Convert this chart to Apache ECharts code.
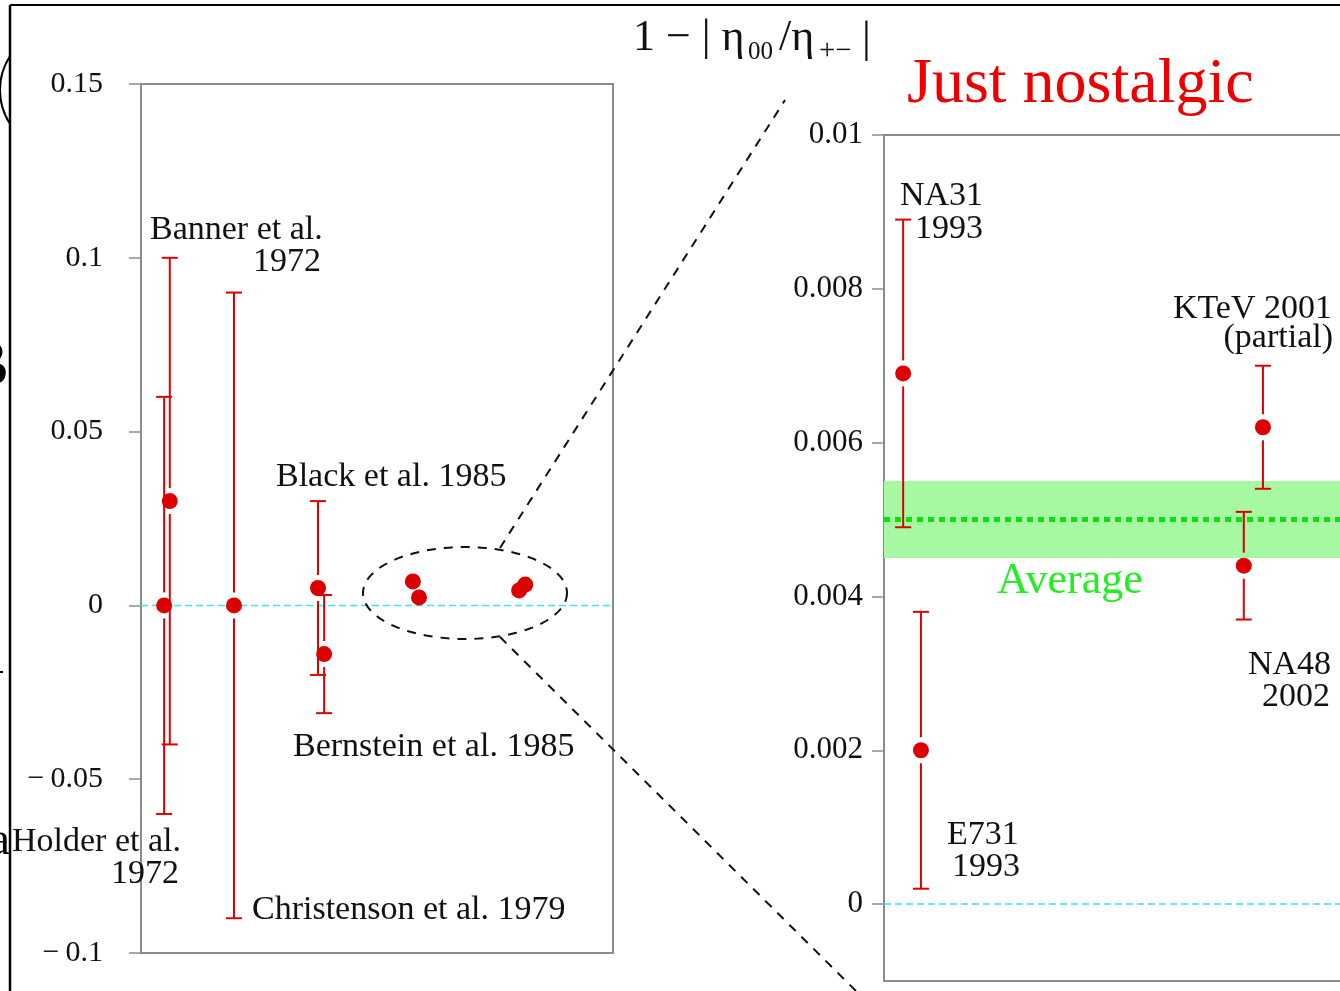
<!DOCTYPE html>
<html><head><meta charset="utf-8">
<script src="https://cdn.jsdelivr.net/npm/echarts@6/dist/echarts.min.js"></script>
<style>html,body{margin:0;padding:0;background:#fff}#c{width:1340px;height:991px}</style>
</head><body><div id="c"></div>
<script>
// ---------- data ----------
const leftNames = ['Holder et al. 1972','Banner et al. 1972','Christenson et al. 1979','Black et al. 1985','Bernstein et al. 1985','NA31 1993','E731 1993','NA48 2002','KTeV 2001'];
const leftSlot  = [4.9, 6.1, 19.7, 37.5, 38.8, 57.6, 58.9, 80.1, 81.4];
const leftValue = [0, 0.03, 0, 0.005, -0.014, 0.0069, 0.0023, 0.0043, 0.0060];
const leftLow   = [-0.06, -0.04, -0.09, -0.02, -0.031, 0.0049, 0.0005, 0.0036, 0.0052];
const leftHigh  = [0.06, 0.10, 0.09, 0.03, 0.003, 0.0089, 0.0041, 0.0050, 0.0068];

const rightNames = ['NA31 1993','E731 1993','NA48 2002','KTeV 2001'];
const rightSlot  = [4.2, 8.1, 78.9, 83.1];
const rightValue = [0.0069, 0.0020, 0.0044, 0.0062];
const rightLow   = [0.0049, 0.0002, 0.0037, 0.0054];
const rightHigh  = [0.0089, 0.0038, 0.0051, 0.0070];

const average = 0.005;
const averageLow = 0.0045;
const averageHigh = 0.0055;

const leftTicks = [-0.1, -0.05, 0, 0.05, 0.1, 0.15];
const leftTickLabels = ['\u2212\u20090.1', '\u2212\u20090.05', '0', '0.05', '0.1', '0.15'];
const rightTicks = [0, 0.002, 0.004, 0.006, 0.008, 0.01];
const rightTickLabels = ['0', '0.002', '0.004', '0.006', '0.008', '0.01'];

// ---------- style ----------
const RED = '#dc0000';
const GRAY = '#8c8c8c';
const SERIF = 'Liberation Serif';
const GAP = 13, CAP = 8, R = 8;

function lbl(ticks, labels) {
  return function (v) {
    for (let i = 0; i < ticks.length; i++) if (Math.abs(v - ticks[i]) < 1e-9) return labels[i];
    return '';
  };
}

function errRender(params, api) {
  const x = api.value(0), y = api.value(1), lo = api.value(2), hi = api.value(3);
  const p = api.coord([x, y]), pl = api.coord([x, lo]), ph = api.coord([x, hi]);
  const st = { stroke: RED, lineWidth: 2 };
  const ch = [];
  if (p[1] - ph[1] > GAP + 2) {
    ch.push({ type: 'line', shape: { x1: p[0], y1: ph[1], x2: p[0], y2: p[1] - GAP }, style: st });
    ch.push({ type: 'line', shape: { x1: p[0] - CAP, y1: ph[1], x2: p[0] + CAP, y2: ph[1] }, style: st });
  }
  if (pl[1] - p[1] > GAP + 2) {
    ch.push({ type: 'line', shape: { x1: p[0], y1: p[1] + GAP, x2: p[0], y2: pl[1] }, style: st });
    ch.push({ type: 'line', shape: { x1: p[0] - CAP, y1: pl[1], x2: p[0] + CAP, y2: pl[1] }, style: st });
  }
  ch.push({ type: 'circle', shape: { cx: p[0], cy: p[1], r: R }, style: { fill: RED } });
  return { type: 'group', children: ch };
}

const leftData = leftSlot.map((s, i) => [s, leftValue[i], leftLow[i], leftHigh[i]]);
const rightData = rightSlot.map((s, i) => [s, rightValue[i], rightLow[i], rightHigh[i]]);

function yAxisCfg(grid, min, max, ticks, labels, margin, size, line) {
  return {
    gridIndex: grid, type: 'value', min: min, max: max,
    axisLine: { show: line, onZero: false, lineStyle: { color: GRAY, width: 2 } },
    axisTick: { show: true, length: 12, customValues: ticks, lineStyle: { color: GRAY, width: 1.5 } },
    axisLabel: { customValues: ticks, formatter: lbl(ticks, labels), fontSize: size, fontFamily: SERIF, color: '#111', margin: margin },
    splitLine: { show: false }
  };
}
function frameX(grid, pos) {
  return { gridIndex: grid, type: 'value', min: 0, max: 100, position: pos,
    axisLine: { show: true, onZero: false, lineStyle: { color: GRAY, width: 2 } },
    axisTick: { show: false }, axisLabel: { show: false }, splitLine: { show: false } };
}

function txt(text, x, y, align, size, color) {
  return { type: 'text', x: x, y: y, z: 50,
    style: { text: text, fontSize: size || 34, fontFamily: SERIF, fill: color || '#111', align: align || 'left', verticalAlign: 'middle' } };
}

// ellipse (annotation) points in pixels
const ell = [];
for (let k = 0; k < 96; k++) {
  const t = k / 96 * Math.PI * 2;
  ell.push([465 + 102 * Math.cos(t), 593 + 46 * Math.sin(t)]);
}

const chart = echarts.init(document.getElementById('c'), null, { renderer: 'canvas' });
chart.setOption({
  animation: false,
  backgroundColor: '#fff',
  grid: [
    { left: 141, top: 84, width: 472, height: 869, show: true, borderColor: GRAY, borderWidth: 2, backgroundColor: 'transparent' },
    { left: 884, top: 135, right: 0, height: 846, show: false }
  ],
  xAxis: [
    { gridIndex: 0, type: 'value', min: 0, max: 100, show: false },
    frameX(1, 'bottom'),
    frameX(1, 'top')
  ],
  yAxis: [
    yAxisCfg(0, -0.1, 0.15, leftTicks, leftTickLabels, 38, 30, false),
    yAxisCfg(1, -0.001, 0.01, rightTicks, rightTickLabels, 21, 31, true)
  ],
  series: [
    { type: 'line', xAxisIndex: 0, yAxisIndex: 0, data: [[0, 0], [100, 0]], symbol: 'none', silent: true, z: 1,
      lineStyle: { color: '#3fe2ef', width: 1.5, type: [7, 4] } },
    { type: 'line', xAxisIndex: 1, yAxisIndex: 1, data: [[0, 0], [100, 0]], symbol: 'none', silent: true, z: 1,
      lineStyle: { color: '#3fe2ef', width: 1.5, type: [7, 4] } },
    { type: 'line', xAxisIndex: 1, yAxisIndex: 1, data: [[0, average], [100, average]], symbol: 'none', silent: true, z: 2,
      lineStyle: { color: '#11dd11', width: 5, type: [6, 5] },
      markArea: { silent: true, itemStyle: { color: '#a6f9a2' }, data: [[{ yAxis: averageLow }, { yAxis: averageHigh }]] } },
    { type: 'custom', xAxisIndex: 0, yAxisIndex: 0, data: leftData, renderItem: errRender, z: 5, clip: false },
    { type: 'custom', xAxisIndex: 1, yAxisIndex: 1, data: rightData, renderItem: errRender, z: 5, clip: false }
  ],
  graphic: [
    // outer frame fragments
    { type: 'line', shape: { x1: 10, y1: 5, x2: 1340, y2: 5 }, style: { stroke: '#000', lineWidth: 2 } },
    { type: 'line', shape: { x1: 10, y1: 5, x2: 10, y2: 991 }, style: { stroke: '#000', lineWidth: 2.5 } },
    { type: 'arc', shape: { cx: 62, cy: 90, r: 62, startAngle: Math.PI * 0.82, endAngle: Math.PI * 1.18 }, style: { stroke: '#000', lineWidth: 2, fill: null } },
    { type: 'text', x: 9, y: 368, style: { text: 'B', fontSize: 66, fontFamily: SERIF, fill: '#000', align: 'right', verticalAlign: 'middle' } },
    { type: 'text', x: 10, y: 842, style: { text: 'a', fontSize: 46, fontFamily: SERIF, fill: '#000', align: 'right', verticalAlign: 'middle' } },
    { type: 'line', shape: { x1: 0, y1: 672, x2: 3, y2: 672 }, style: { stroke: '#000', lineWidth: 2 } },
    // title
    txt('1 \u2212 | \u03b7', 633, 38, 'left', 44),
    txt('00', 748, 52, 'left', 25),
    txt('/\u03b7', 779, 38, 'left', 44),
    txt('+\u2212', 819, 51, 'left', 29),
    txt('|', 862, 40, 'left', 44),
    txt('Just nostalgic', 907, 85, 'left', 64, '#ee0000'),
    // zoom annotation
    { type: 'polygon', shape: { points: ell }, style: { stroke: '#111', lineWidth: 2, fill: null, lineDash: [9, 8] }, z: 20 },
    { type: 'line', shape: { x1: 500, y1: 548, x2: 785, y2: 100 }, style: { stroke: '#111', lineWidth: 2, lineDash: [9, 8] }, z: 20 },
    { type: 'line', shape: { x1: 500, y1: 637, x2: 856, y2: 991 }, style: { stroke: '#111', lineWidth: 2, lineDash: [9, 8] }, z: 20 },
    // left labels
    txt('Banner et al.', 150, 230),
    txt('1972', 321, 262, 'right'),
    txt('Black et al. 1985', 276, 477),
    txt('Bernstein et al. 1985', 293, 747),
    txt('Holder et al.', 12, 842),
    txt('1972', 179, 874, 'right'),
    txt('Christenson et al. 1979', 252, 910),
    // right labels
    txt('NA31', 900, 196),
    txt('1993', 915, 229),
    txt('KTeV 2001', 1332, 309, 'right'),
    txt('(partial)', 1333, 338, 'right'),
    txt('Average', 997, 581, 'left', 44, '#22ee22'),
    txt('NA48', 1331, 665, 'right'),
    txt('2002', 1330, 697, 'right'),
    txt('E731', 947, 835),
    txt('1993', 952, 867)
  ]
});
</script></body></html>
